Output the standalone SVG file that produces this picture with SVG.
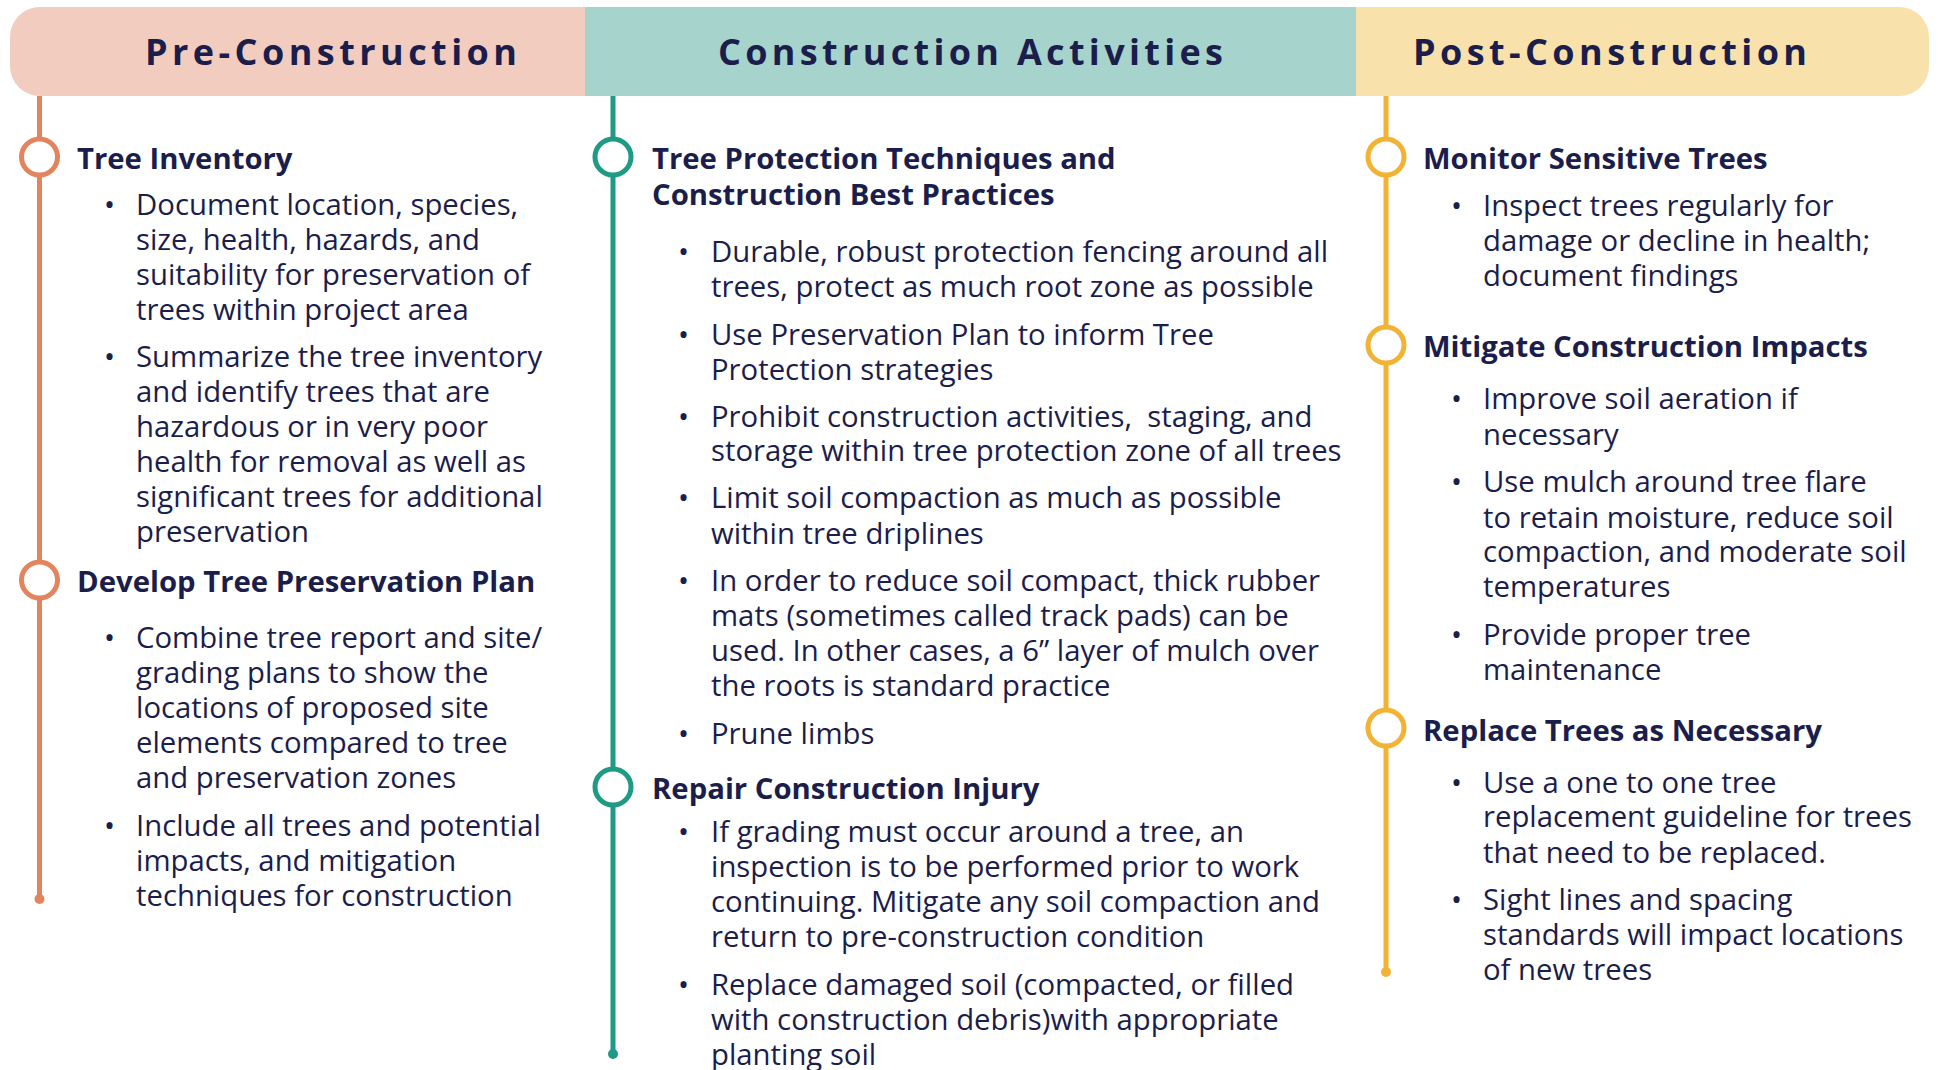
<svg xmlns="http://www.w3.org/2000/svg" width="1939" height="1070" viewBox="0 0 1939 1070">
<style>
.hd{font-family:"Open Sans","Liberation Sans",sans-serif;font-weight:700;font-size:36px;fill:#1b1d4b}
.h{font-family:"Open Sans","Liberation Sans",sans-serif;font-weight:700;font-size:29.3px;fill:#1b1d4b}
.t{font-family:"Open Sans","Liberation Sans",sans-serif;font-size:29.3px;fill:#1b1d4b;white-space:pre}
.pre{stroke:#e2845e}
.con{stroke:#1f9a84}
.post{stroke:#f2b234}
.ln{stroke-width:5;fill:none}
.ring{stroke-width:5;fill:#fff}
</style>
<rect width="1939" height="1070" fill="#fff"/>
<g id="header">
<path d="M40,7 H586 V96 H40 A30,30 0 0 1 10,66 V37 A30,30 0 0 1 40,7 Z" fill="#f2ccbf"/>
<rect x="585" y="7" width="772" height="89" fill="#a6d3cc"/>
<path d="M1356,7 H1899 A30,30 0 0 1 1929,37 V66 A30,30 0 0 1 1899,96 H1356 Z" fill="#f8e1ab"/>
<text class="hd" x="145" y="65" textLength="372" lengthAdjust="spacing">Pre-Construction</text>
<text class="hd" x="718" y="65" textLength="505" lengthAdjust="spacing">Construction Activities</text>
<text class="hd" x="1413" y="65" textLength="394" lengthAdjust="spacing">Post-Construction</text>
</g>
<g id="connectors">
<line class="ln pre" x1="39.5" y1="96" x2="39.5" y2="899"/>
<circle cx="39.5" cy="899" r="5" fill="#e2845e"/>
<line class="ln con" x1="613" y1="96" x2="613" y2="1054"/>
<circle cx="613" cy="1054" r="5" fill="#1f9a84"/>
<line class="ln post" x1="1386" y1="96" x2="1386" y2="972"/>
<circle cx="1386" cy="972" r="5" fill="#f2b234"/>
</g>
<g id="pre-tree-inventory">
<circle class="ring pre" cx="39.5" cy="157" r="18"/>
<text class="h" x="77" y="169">Tree Inventory</text>
<text class="t" x="104" y="215">•</text>
<text class="t" x="136" y="215">Document location, species,</text>
<text class="t" x="136" y="250">size, health, hazards, and</text>
<text class="t" x="136" y="285">suitability for preservation of</text>
<text class="t" x="136" y="320">trees within project area</text>
<text class="t" x="104" y="367">•</text>
<text class="t" x="136" y="367">Summarize the tree inventory</text>
<text class="t" x="136" y="402">and identify trees that are</text>
<text class="t" x="136" y="437">hazardous or in very poor</text>
<text class="t" x="136" y="472">health for removal as well as</text>
<text class="t" x="136" y="507">significant trees for additional</text>
<text class="t" x="136" y="542">preservation</text>
</g>
<g id="pre-preservation-plan">
<circle class="ring pre" cx="39.5" cy="580" r="18"/>
<text class="h" x="77" y="592">Develop Tree Preservation Plan</text>
<text class="t" x="104" y="648">•</text>
<text class="t" x="136" y="648">Combine tree report and site/</text>
<text class="t" x="136" y="683">grading plans to show the</text>
<text class="t" x="136" y="718">locations of proposed site</text>
<text class="t" x="136" y="753">elements compared to tree</text>
<text class="t" x="136" y="788">and preservation zones</text>
<text class="t" x="104" y="836">•</text>
<text class="t" x="136" y="836">Include all trees and potential</text>
<text class="t" x="136" y="871">impacts, and mitigation</text>
<text class="t" x="136" y="906">techniques for construction</text>
</g>
<g id="con-protection">
<circle class="ring con" cx="613" cy="157" r="18"/>
<text class="h" x="652" y="169">Tree Protection Techniques and</text>
<text class="h" x="652" y="205">Construction Best Practices</text>
<text class="t" x="678" y="262">•</text>
<text class="t" x="711" y="262">Durable, robust protection fencing around all</text>
<text class="t" x="711" y="297">trees, protect as much root zone as possible</text>
<text class="t" x="678" y="345">•</text>
<text class="t" x="711" y="345">Use Preservation Plan to inform Tree</text>
<text class="t" x="711" y="380">Protection strategies</text>
<text class="t" x="678" y="427">•</text>
<text class="t" x="711" y="427">Prohibit construction activities,  staging, and</text>
<text class="t" x="711" y="461">storage within tree protection zone of all trees</text>
<text class="t" x="678" y="508">•</text>
<text class="t" x="711" y="508">Limit soil compaction as much as possible</text>
<text class="t" x="711" y="544">within tree driplines</text>
<text class="t" x="678" y="591">•</text>
<text class="t" x="711" y="591">In order to reduce soil compact, thick rubber</text>
<text class="t" x="711" y="626">mats (sometimes called track pads) can be</text>
<text class="t" x="711" y="661">used. In other cases, a 6” layer of mulch over</text>
<text class="t" x="711" y="696">the roots is standard practice</text>
<text class="t" x="678" y="744">•</text>
<text class="t" x="711" y="744">Prune limbs</text>
</g>
<g id="con-repair">
<circle class="ring con" cx="613" cy="787" r="18"/>
<text class="h" x="652" y="799">Repair Construction Injury</text>
<text class="t" x="678" y="842">•</text>
<text class="t" x="711" y="842">If grading must occur around a tree, an</text>
<text class="t" x="711" y="877">inspection is to be performed prior to work</text>
<text class="t" x="711" y="912">continuing. Mitigate any soil compaction and</text>
<text class="t" x="711" y="947">return to pre-construction condition</text>
<text class="t" x="678" y="995">•</text>
<text class="t" x="711" y="995">Replace damaged soil (compacted, or filled</text>
<text class="t" x="711" y="1030">with construction debris)with appropriate</text>
<text class="t" x="711" y="1065">planting soil</text>
</g>
<g id="post-monitor">
<circle class="ring post" cx="1386" cy="157" r="18"/>
<text class="h" x="1423" y="169">Monitor Sensitive Trees</text>
<text class="t" x="1451" y="216">•</text>
<text class="t" x="1483" y="216">Inspect trees regularly for</text>
<text class="t" x="1483" y="251">damage or decline in health;</text>
<text class="t" x="1483" y="286">document findings</text>
</g>
<g id="post-mitigate">
<circle class="ring post" cx="1386" cy="345" r="18"/>
<text class="h" x="1423" y="357">Mitigate Construction Impacts</text>
<text class="t" x="1451" y="409">•</text>
<text class="t" x="1483" y="409">Improve soil aeration if</text>
<text class="t" x="1483" y="445">necessary</text>
<text class="t" x="1451" y="492">•</text>
<text class="t" x="1483" y="492">Use mulch around tree flare</text>
<text class="t" x="1483" y="528">to retain moisture, reduce soil</text>
<text class="t" x="1483" y="562">compaction, and moderate soil</text>
<text class="t" x="1483" y="597">temperatures</text>
<text class="t" x="1451" y="645">•</text>
<text class="t" x="1483" y="645">Provide proper tree</text>
<text class="t" x="1483" y="680">maintenance</text>
</g>
<g id="post-replace">
<circle class="ring post" cx="1386" cy="728" r="18"/>
<text class="h" x="1423" y="741">Replace Trees as Necessary</text>
<text class="t" x="1451" y="793">•</text>
<text class="t" x="1483" y="793">Use a one to one tree</text>
<text class="t" x="1483" y="827">replacement guideline for trees</text>
<text class="t" x="1483" y="863">that need to be replaced.</text>
<text class="t" x="1451" y="910">•</text>
<text class="t" x="1483" y="910">Sight lines and spacing</text>
<text class="t" x="1483" y="945">standards will impact locations</text>
<text class="t" x="1483" y="980">of new trees</text>
</g>
</svg>
